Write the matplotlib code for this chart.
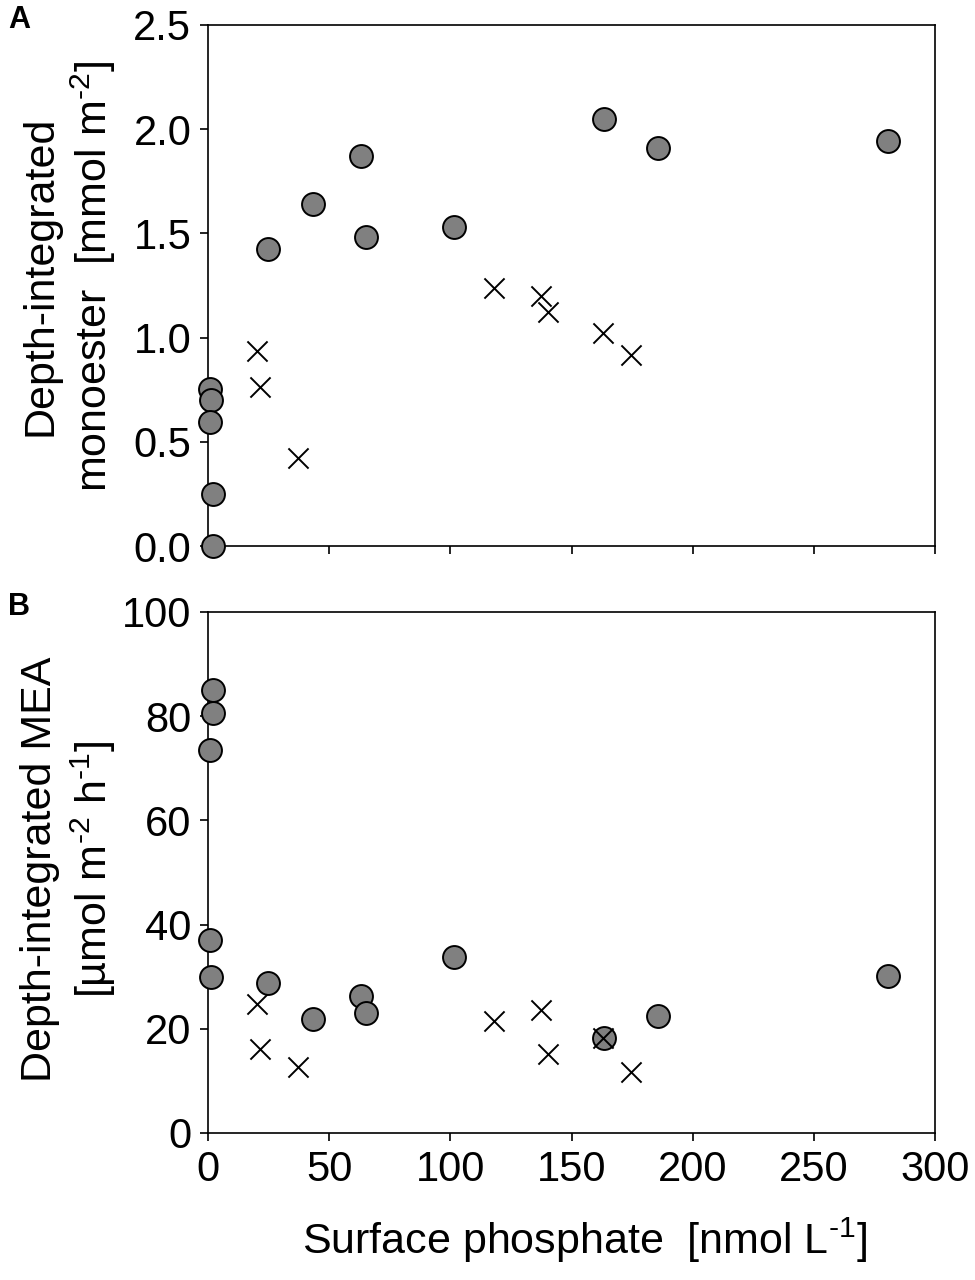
import matplotlib
matplotlib.use("Agg")
import matplotlib.pyplot as plt

plt.rcParams['font.family'] = ['Liberation Sans', 'DejaVu Sans']
plt.rcParams['mathtext.fontset'] = 'custom'
plt.rcParams['mathtext.rm'] = 'Liberation Sans'
plt.rcParams['mathtext.default'] = 'regular'

# stations with monoester measured (circles) and without (crosses)
circle_phosphate = [1.0, 1.2, 0.9, 2.2, 2.2, 24.7, 43.3, 63.2, 65.0, 101.7, 163.5, 185.8, 280.5]
circle_monoester = [0.752, 0.70, 0.597, 0.248, 0.0, 1.425, 1.641, 1.871, 1.481, 1.531, 2.047, 1.911, 1.945]
circle_mea = [37.0, 30.0, 73.5, 85.0, 80.7, 28.7, 21.8, 26.3, 23.0, 33.8, 18.3, 22.5, 30.1]

cross_phosphate = [20.4, 21.3, 37.3, 118.2, 137.6, 140.3, 163.2, 174.6]
cross_monoester = [0.937, 0.761, 0.424, 1.240, 1.201, 1.121, 1.022, 0.915]
cross_mea = [24.8, 16.1, 12.6, 21.5, 23.6, 15.1, 18.3, 11.7]

x_ticks = [0, 50, 100, 150, 200, 250, 300]
mono_ticks = [0.0, 0.5, 1.0, 1.5, 2.0, 2.5]
mea_ticks = [0, 20, 40, 60, 80, 100]

W, H = 975, 1280
fig = plt.figure(figsize=(W / 100, H / 100), dpi=100)
HY = "\u2010"  # short hyphen for the superscripts


def px_axes(left, top, right, bottom):
    return fig.add_axes([left / W, 1 - bottom / H, (right - left) / W, (bottom - top) / H])


def style(ax):
    for s in ax.spines.values():
        s.set_linewidth(1.2)
    ax.tick_params(direction='out', length=6, width=1.2, labelsize=30, pad=6)
    ax.set_xlim(0, 300)
    ax.set_xticks(x_ticks)


def draw(ax, yc, yx):
    ax.scatter(circle_phosphate, yc, s=16.5 ** 2, c='#808080', edgecolors='black',
               linewidths=1.4, zorder=3, clip_on=False)
    ax.scatter(cross_phosphate, yx, s=14.5 ** 2, c='black', marker='x',
               linewidths=1.4, zorder=4, clip_on=False)


axA = px_axes(208, 25, 935, 546)
style(axA)
draw(axA, circle_monoester, cross_monoester)
axA.set_ylim(0, 2.5)
axA.set_yticks(mono_ticks)
axA.set_yticklabels([f"{v:.1f}" for v in mono_ticks])
axA.set_xticklabels([])

axB = px_axes(208, 612, 935, 1133)
style(axB)
draw(axB, circle_mea, cross_mea)
axB.set_ylim(0, 100)
axB.set_yticks(mea_ticks)
axB.set_xticklabels([str(v) for v in x_ticks])

fig.text(69 / W, 1 - 276 / H, "Depth-integrated\nmonoester  [mmol m$^{" + HY + "2}$]",
         rotation=90, ha='center', va='center', multialignment='center', fontsize=31)
fig.text(69 / W, 1 - 869 / H,
         "Depth-integrated MEA\n[µmol m$^{" + HY + "2}$ h$^{" + HY + "1}$]",
         rotation=90, ha='center', va='center', multialignment='center', fontsize=31)
fig.text(585 / W, 1 - 1240 / H, "Surface phosphate  [nmol L$^{" + HY + "1}$]",
         ha='center', va='center', fontsize=31)

fig.text(8 / W, 1 - 20 / H, "A", fontsize=22, fontweight='bold', ha='left', va='center')
fig.text(8 / W, 1 - 607 / H, "B", fontsize=22, fontweight='bold', ha='left', va='center')

fig.savefig("out.png", dpi=100, facecolor='white')
